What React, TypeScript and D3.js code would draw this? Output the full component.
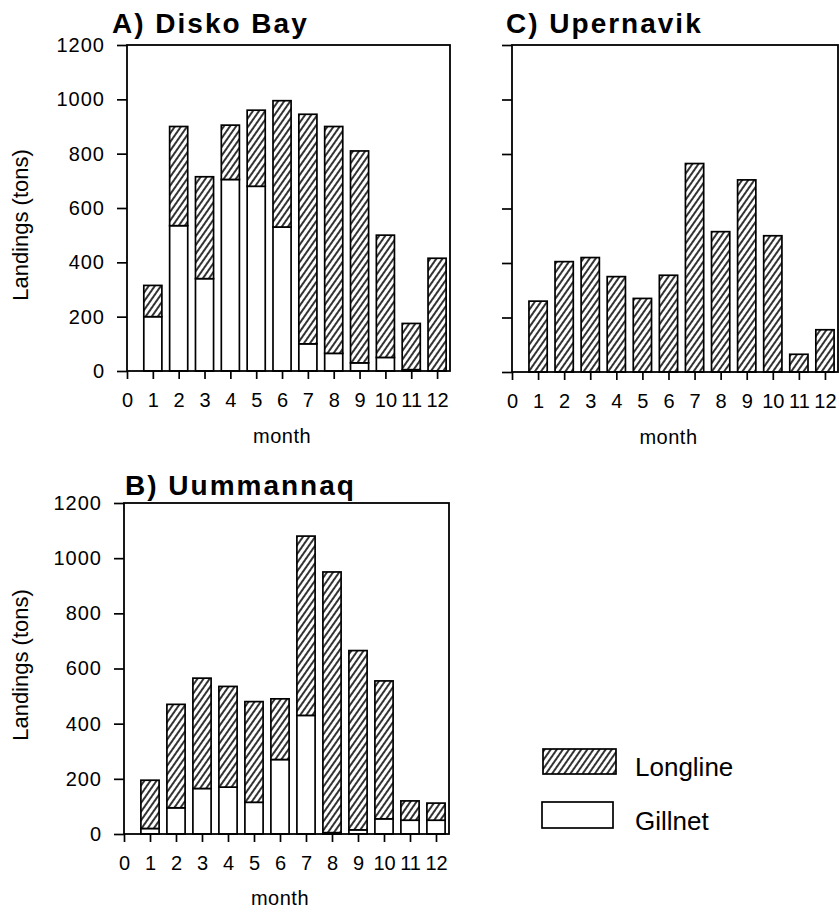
import React, { useEffect, useRef } from 'react';
import * as d3 from 'd3';

// months on the x axis
const months = [1, 2, 3, 4, 5, 6, 7, 8, 9, 10, 11, 12];
const xTicks = [0, 1, 2, 3, 4, 5, 6, 7, 8, 9, 10, 11, 12];
const yTicks = [0, 200, 400, 600, 800, 1000, 1200];

// landings (tons)
const diskoGillnet = [200, 535, 340, 705, 680, 530, 100, 65, 30, 50, 5, 0];
const diskoLongline = [115, 365, 375, 200, 280, 465, 845, 835, 780, 450, 170, 415];

const uummGillnet = [20, 95, 165, 170, 115, 270, 430, 5, 15, 55, 50, 50];
const uummLongline = [175, 375, 400, 365, 365, 220, 650, 945, 650, 500, 70, 62];

const upernGillnet = [0, 0, 0, 0, 0, 0, 0, 0, 0, 0, 0, 0];
const upernLongline = [260, 405, 420, 350, 270, 355, 765, 515, 705, 500, 65, 155];

const FONT = "'Liberation Sans', Arial, Helvetica, sans-serif";

const App = () => {
  const svgRef = useRef<SVGSVGElement>(null);

  useEffect(() => {
    const svg = d3.select(svgRef.current);
    svg.selectAll('*').remove();

    // hatch pattern for longline
    const defs = svg.append('defs');
    const pat = defs.append('pattern')
      .attr('id', 'hatch')
      .attr('patternUnits', 'userSpaceOnUse')
      .attr('width', 5)
      .attr('height', 5)
      .attr('patternTransform', 'rotate(35)');
    pat.append('rect').attr('width', 5).attr('height', 5).attr('fill', 'white');
    pat.append('line')
      .attr('x1', 1).attr('y1', -1).attr('x2', 1).attr('y2', 6)
      .attr('stroke', '#000').attr('stroke-width', 1.6);

    const panels = [
      { title: 'A) Disko Bay', left: 127, top: 45, w: 323, h: 326, gill: diskoGillnet, long: diskoLongline, labels: true, tx: 112, ty: 33, ylab: 225, month: 443 },
      { title: 'C) Upernavik', left: 512, top: 45, w: 326, h: 327, gill: upernGillnet, long: upernLongline, labels: false, tx: 506, ty: 33, ylab: 0, month: 444 },
      { title: 'B) Uummannaq', left: 124, top: 503, w: 325, h: 331, gill: uummGillnet, long: uummLongline, labels: true, tx: 125, ty: 495, ylab: 665, month: 905 },
    ];

    panels.forEach(p => {
      const x = d3.scaleLinear().domain([0, 12.5]).range([0, p.w]);
      const y = d3.scaleLinear().domain([0, 1200]).range([p.h, 0]);
      const bw = x(0.7) - x(0);

      const data = months.map((m, i) => ({ month: m, gillnet: p.gill[i], longline: p.long[i] }));
      const stacked = d3.stack<any>().keys(['gillnet', 'longline'])(data);

      const g = svg.append('g').attr('transform', `translate(${p.left},${p.top})`);

      // bars
      stacked.forEach(layer => {
        g.append('g')
          .selectAll('rect')
          .data(layer.filter(d => d[1] - d[0] > 0))
          .join('rect')
            .attr('x', d => x(d.data.month) - bw / 2)
            .attr('y', d => y(d[1]))
            .attr('width', bw)
            .attr('height', d => y(d[0]) - y(d[1]))
            .attr('fill', layer.key === 'longline' ? 'url(#hatch)' : 'white')
            .attr('stroke', '#000')
            .attr('stroke-width', 1.7);
      });

      // frame
      g.append('rect')
        .attr('width', p.w).attr('height', p.h)
        .attr('fill', 'none').attr('stroke', '#000').attr('stroke-width', 1.8);

      // y axis
      const ya = g.append('g').call(
        d3.axisLeft(y).tickValues(yTicks).tickSize(10).tickSizeOuter(0).tickPadding(12)
          .tickFormat(p.labels ? (d: any) => String(d) : () => '')
      );
      ya.select('.domain').remove();
      ya.selectAll('line').attr('stroke', '#000').attr('stroke-width', 1.7);
      ya.selectAll('text').attr('font-family', FONT).attr('font-size', 20).attr('letter-spacing', 1).attr('fill', '#000');

      // x axis
      const xa = g.append('g').attr('transform', `translate(0,${p.h})`).call(
        d3.axisBottom(x).tickValues(xTicks).tickSize(8).tickSizeOuter(0).tickPadding(14)
          .tickFormat((d: any) => String(d))
      );
      xa.select('.domain').remove();
      xa.selectAll('line').attr('stroke', '#000').attr('stroke-width', 1.7);
      xa.selectAll('text').attr('font-family', FONT).attr('font-size', 20).attr('fill', '#000');

      // month label
      svg.append('text')
        .attr('x', p.left + x(6)).attr('y', p.month)
        .attr('text-anchor', 'middle')
        .attr('font-family', FONT).attr('font-size', 20).attr('letter-spacing', 0.5)
        .attr('fill', '#000')
        .text('month');

      // title
      svg.append('text')
        .attr('x', p.tx).attr('y', p.ty)
        .attr('font-family', FONT).attr('font-size', 28).attr('font-weight', 'bold')
        .attr('letter-spacing', 2).attr('fill', '#000')
        .text(p.title);

      if (p.labels) {
        svg.append('text')
          .attr('transform', `translate(28,${p.ylab}) rotate(-90)`)
          .attr('text-anchor', 'middle')
          .attr('font-family', FONT).attr('font-size', 22)
          .attr('fill', '#000')
          .text('Landings (tons)');
      }
    });

    // legend
    const legend = [
      { label: 'Longline', fill: 'url(#hatch)', x: 543, y: 749, w: 73, h: 25 },
      { label: 'Gillnet', fill: 'white', x: 542, y: 802, w: 71, h: 26 },
    ];
    const lg = svg.append('g');
    lg.selectAll('rect')
      .data(legend)
      .join('rect')
        .attr('x', d => d.x).attr('y', d => d.y)
        .attr('width', d => d.w).attr('height', d => d.h)
        .attr('fill', d => d.fill)
        .attr('stroke', '#000').attr('stroke-width', 1.7);
    lg.selectAll('text')
      .data(legend)
      .join('text')
        .attr('x', 635).attr('y', d => d.y + d.h + 2)
        .attr('font-family', FONT).attr('font-size', 26)
        .attr('fill', '#000')
        .text(d => d.label);
  }, []);

  return (
    <div>
      <svg ref={svgRef} width={839} height={912}
        style={{ position: 'absolute', left: 0, top: 0, background: 'white' }} />
    </div>
  );
};

export default App;
